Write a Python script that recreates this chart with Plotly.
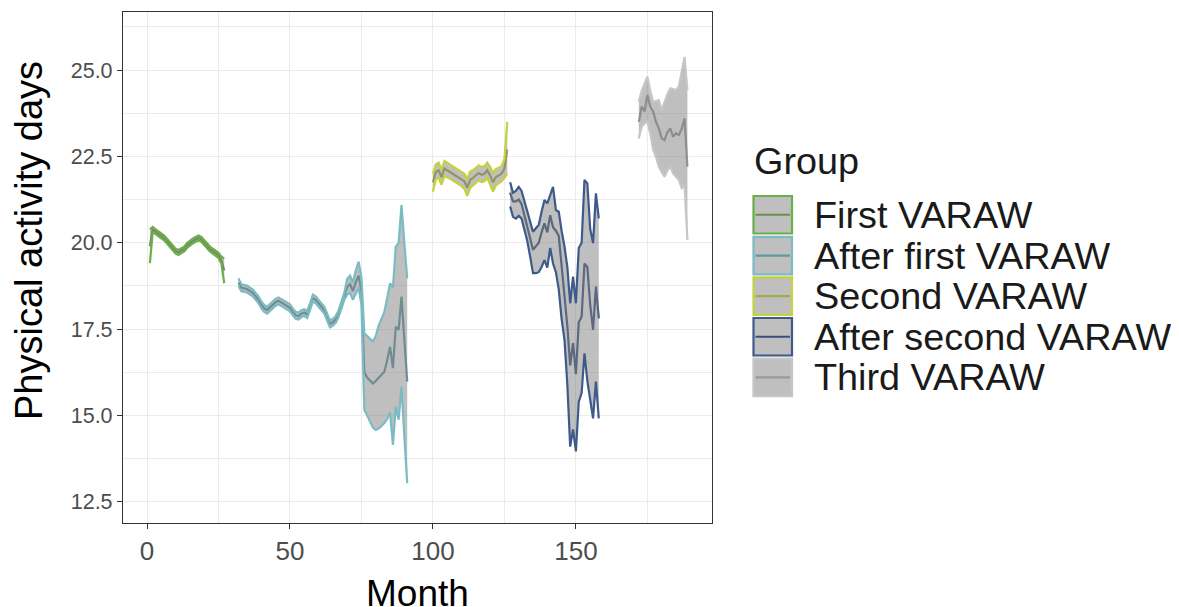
import plotly.graph_objects as go

# ---------------- data ----------------
groups = ["First VARAW", "After first VARAW", "Second VARAW", "After second VARAW", "Third VARAW"]

g1_month = list(range(1, 28))
g1_mean = [19.9, 20.39, 20.32, 20.25, 20.2, 20.14, 20.05, 19.93, 19.85, 19.76, 19.72, 19.76, 19.82, 19.92,
           19.99, 20.05, 20.1, 20.14, 20.1, 20.0, 19.92, 19.82, 19.76, 19.7, 19.64, 19.5, 19.2]
g1_lo = [19.41, 20.32, 20.25, 20.18, 20.13, 20.07, 19.98, 19.86, 19.78, 19.69, 19.65, 19.69, 19.75, 19.85,
         19.92, 19.98, 20.03, 20.07, 20.03, 19.93, 19.85, 19.75, 19.69, 19.63, 19.56, 19.4, 18.83]
g1_hi = [20.39, 20.46, 20.39, 20.32, 20.27, 20.21, 20.12, 20.0, 19.92, 19.83, 19.79, 19.83, 19.89, 19.99,
         20.06, 20.12, 20.17, 20.21, 20.17, 20.07, 19.99, 19.89, 19.83, 19.77, 19.71, 19.6, 19.55]

g2_month = list(range(32, 92))
g2_mean = [18.85, 18.7, 18.68, 18.66, 18.6, 18.55, 18.45, 18.35, 18.2, 18.1, 18.05, 18.12, 18.2, 18.28,
           18.32, 18.27, 18.22, 18.17, 18.12, 18.0, 17.9, 17.88, 17.95, 17.98, 17.92, 18.15, 18.4, 18.35,
           18.25, 18.15, 18.05, 17.85, 17.65, 17.7, 17.78, 17.95, 18.2, 18.45, 18.72, 18.8, 18.6, 18.85,
           19.05, 18.6, 16.25, 16.1, 16.0, 15.93, 16.0, 16.1, 16.2, 16.27, 16.6, 16.99, 16.37, 17.57,
           17.48, 18.44, 17.2, 15.98]
g2_lo = [18.75, 18.6, 18.58, 18.56, 18.5, 18.45, 18.35, 18.25, 18.1, 18.0, 17.95, 18.02, 18.1, 18.18,
         18.22, 18.17, 18.12, 18.07, 18.02, 17.9, 17.8, 17.78, 17.85, 17.88, 17.82, 18.05, 18.3, 18.25,
         18.15, 18.05, 17.95, 17.75, 17.55, 17.6, 17.68, 17.85, 18.1, 18.35, 18.5, 18.55, 18.35, 18.55,
         18.7, 18.2, 15.16, 15.0, 14.8, 14.65, 14.58, 14.62, 14.7, 14.78, 14.9, 15.1, 14.15, 15.26,
         14.88, 15.84, 14.4, 13.04]
g2_hi = [18.97, 18.8, 18.78, 18.76, 18.7, 18.65, 18.55, 18.45, 18.3, 18.2, 18.15, 18.22, 18.3, 18.38,
         18.42, 18.37, 18.32, 18.27, 18.22, 18.1, 18.0, 17.98, 18.05, 18.08, 18.02, 18.25, 18.5, 18.45,
         18.35, 18.25, 18.15, 17.95, 17.75, 17.8, 17.88, 18.05, 18.3, 18.55, 18.95, 19.05, 18.85, 19.2,
         19.45, 19.0, 17.38, 17.3, 17.2, 17.14, 17.3, 17.6, 17.8, 18.0, 18.4, 18.83, 18.7, 19.89,
         20.0, 21.09, 20.0, 18.97]

g3_month = list(range(100, 127))
g3_mean = [21.75, 22.05, 22.1, 21.9, 22.15, 22.1, 22.05, 22.0, 21.95, 21.9, 21.85, 21.78, 21.6, 21.82,
           21.88, 21.95, 22.02, 21.97, 22.0, 22.1, 21.95, 21.75, 21.9, 21.95, 22.0, 22.15, 22.7]
g3_lo = [21.48, 21.83, 21.88, 21.68, 21.93, 21.9, 21.85, 21.8, 21.75, 21.7, 21.64, 21.56, 21.36, 21.58,
         21.66, 21.74, 21.81, 21.76, 21.78, 21.88, 21.7, 21.48, 21.66, 21.73, 21.78, 21.88, 22.0]
g3_hi = [22.0, 22.27, 22.32, 22.12, 22.37, 22.32, 22.26, 22.2, 22.15, 22.1, 22.06, 22.0, 21.84, 22.06,
         22.1, 22.17, 22.24, 22.19, 22.22, 22.32, 22.2, 22.02, 22.14, 22.17, 22.22, 22.42, 23.5]

g4_month = list(range(127, 159))
g4_mean = [21.45, 21.2, 21.2, 21.25, 21.12, 20.8, 20.45, 20.1, 19.8, 19.9, 20.0, 20.3, 20.56, 20.3,
           20.8, 20.45, 20.35, 20.2, 19.3, 18.6, 17.6, 16.45, 17.1, 16.2, 17.7, 17.86, 19.4, 19.3,
           18.2, 17.48, 18.73, 17.81]
g4_lo = [21.05, 20.75, 20.7, 20.78, 20.7, 20.4, 20.05, 19.6, 19.12, 19.12, 19.15, 19.3, 19.5, 19.28,
         19.85, 19.4, 19.15, 18.65, 17.8, 17.2, 15.9, 14.1, 14.6, 13.96, 15.4, 15.65, 16.8, 16.0,
         15.4, 14.92, 15.98, 14.92]
g4_hi = [21.75, 21.45, 21.5, 21.62, 21.5, 21.2, 20.85, 20.55, 20.32, 20.42, 20.52, 20.9, 21.24, 21.14,
         21.4, 21.62, 20.95, 20.9, 20.35, 19.9, 19.3, 18.25, 19.02, 18.25, 19.85, 20.0, 21.82, 21.72,
         20.4, 19.99, 21.43, 20.71]

g5_month = list(range(172, 190))
g5_mean = [23.5, 23.94, 23.8, 24.28, 23.94, 23.8, 23.5, 23.31, 23.02, 22.97, 23.2, 23.31, 23.07, 23.17,
           23.12, 23.3, 23.6, 22.2]
g5_lo = [23.02, 23.36, 23.45, 23.5, 23.17, 22.7, 22.49, 22.2, 22.05, 21.91, 22.1, 22.2, 22.01, 21.9,
         21.82, 21.58, 21.67, 20.08]
g5_hi = [24.08, 24.4, 24.6, 24.81, 24.4, 24.08, 24.1, 24.13, 23.84, 24.08, 24.3, 24.47, 24.44, 24.42,
         24.52, 24.9, 25.38, 24.42]

x_ticks = [0, 50, 100, 150]
y_ticks = [12.5, 15.0, 17.5, 20.0, 22.5, 25.0]
y_tick_labels = ["12.5", "15.0", "17.5", "20.0", "22.5", "25.0"]

# ---------------- styles ----------------
outline_col = ["#6aaf48", "#7bbcc4", "#c4d23c", "#3d5a8a", "#c6c6c6"]
mean_col = ["#6e8f4c", "#5f98a1", "#a2aa4a", "#36517d", "#9a9a9a"]
ribbon_fill = "rgba(128,128,128,0.5)"
FONT = "Liberation Sans, Arial, sans-serif"

series = [
    (g1_month, g1_mean, g1_lo, g1_hi),
    (g2_month, g2_mean, g2_lo, g2_hi),
    (g3_month, g3_mean, g3_lo, g3_hi),
    (g4_month, g4_mean, g4_lo, g4_hi),
    (g5_month, g5_mean, g5_lo, g5_hi),
]

fig = go.Figure()
for i, (m, mu, lo, hi) in enumerate(series):
    fig.add_trace(go.Scatter(x=m, y=mu, mode="lines", line=dict(color=mean_col[i], width=2.2),
                             showlegend=False, hoverinfo="skip"))
    fig.add_trace(go.Scatter(x=m + m[::-1], y=hi + lo[::-1], mode="lines", fill="toself",
                             fillcolor=ribbon_fill, line=dict(width=0), showlegend=False,
                             hoverinfo="skip"))
    fig.add_trace(go.Scatter(x=m, y=hi, mode="lines", line=dict(color=outline_col[i], width=2.2),
                             showlegend=False, name=groups[i]))
    fig.add_trace(go.Scatter(x=m, y=lo, mode="lines", line=dict(color=outline_col[i], width=2.2),
                             showlegend=False, name=groups[i]))

# ---------------- layout ----------------
# page body has an 8px margin; panel target in page pixels: 123..712 x 12..523
OFF = 8
W, H = 1171, 599
L, R, T, B = 123, 712, 12, 523


def px(xp):
    return (xp - L) / (R - L)


def py(yp):
    return (B - yp) / (B - T)


shapes = []
annotations = []
key_top = [196, 236.8, 277.4, 318, 358.6]
key_h = 37.5
kx0, kx1 = 753.5, 792
LEG_SIZE = 37.8
for i, g in enumerate(groups):
    y0 = key_top[i]
    y1 = y0 + key_h
    shapes.append(dict(type="rect", xref="paper", yref="paper", x0=px(kx0), x1=px(kx1),
                       y0=py(y1), y1=py(y0), fillcolor="#bfbfbf",
                       line=dict(color=outline_col[i] if i < 4 else "#c6c6c6", width=2.2)))
    yc = (y0 + y1) / 2
    shapes.append(dict(type="line", xref="paper", yref="paper", x0=px(kx0 + 2), x1=px(kx1 - 2),
                       y0=py(yc), y1=py(yc), line=dict(color=mean_col[i], width=2.2)))
    annotations.append(dict(text=g, xref="paper", yref="paper", x=px(812), y=py(yc),
                            xanchor="left", yanchor="middle", showarrow=False,
                            font=dict(family=FONT, size=LEG_SIZE, color="#1a1a1a")))
annotations.append(dict(text="Group", xref="paper", yref="paper", x=px(752), y=py(161),
                        xanchor="left", yanchor="middle", showarrow=False,
                        font=dict(family=FONT, size=LEG_SIZE, color="#1a1a1a")))
# axis titles
annotations.append(dict(text="Physical activity days", xref="paper", yref="paper",
                        x=px(29), y=py(241), xanchor="center", yanchor="middle", textangle=-90,
                        showarrow=False, font=dict(family=FONT, size=38, color="black")))
annotations.append(dict(text="Month", xref="paper", yref="paper",
                        x=px(417.5), y=py(593), xanchor="center", yanchor="middle",
                        showarrow=False, font=dict(family=FONT, size=37, color="black")))

fig.update_layout(
    width=W, height=H,
    margin=dict(l=L - OFF, r=W + OFF - R, t=T - OFF, b=H + OFF - B, pad=0),
    paper_bgcolor="white", plot_bgcolor="white",
    font=dict(family=FONT),
    shapes=shapes, annotations=annotations,
    showlegend=False,
    xaxis=dict(range=[-8.4, 197.6], tickvals=x_ticks, ticktext=[str(v) for v in x_ticks],
               automargin=False,
               showgrid=True, gridcolor="#ebebeb", gridwidth=1.2,
               minor=dict(tickvals=[25, 75, 125, 175], showgrid=True, gridcolor="#ebebeb", gridwidth=0.6),
               zeroline=False, showline=True, mirror=True, linecolor="#333333", linewidth=1.2,
               ticks="outside", ticklen=5, tickcolor="#333333", tickwidth=1.2,
               tickfont=dict(family=FONT, size=26, color="#4d4d4d")),
    yaxis=dict(range=[11.89, 26.68], tickvals=y_ticks, ticktext=y_tick_labels,
               automargin=False,
               showgrid=True, gridcolor="#ebebeb", gridwidth=1.2,
               minor=dict(tickvals=[13.75, 16.25, 18.75, 21.25, 23.75, 26.25], showgrid=True,
                          gridcolor="#ebebeb", gridwidth=0.6),
               zeroline=False, showline=True, mirror=True, linecolor="#333333", linewidth=1.2,
               ticks="outside", ticklen=5, tickcolor="#333333", tickwidth=1.2,
               tickfont=dict(family=FONT, size=21.5, color="#4d4d4d")),
)

fig.write_html("out.html")
